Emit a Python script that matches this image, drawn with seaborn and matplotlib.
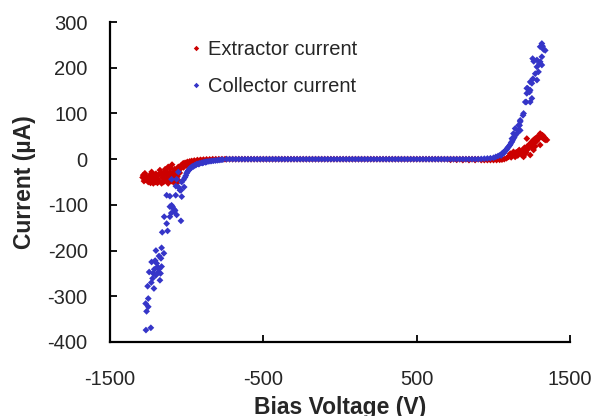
import pandas as pd
import seaborn as sns
import matplotlib.pyplot as plt

# values (V, uA)
collector_left_v = [-1265, -1233, -1267, -1261, -1250, -1250, -1254, -1213, -1230, -1222,
                    -1174, -1244, -1200, -1185, -1218, -1211, -1163, -1178, -1190, -1195,
                    -1228, -1205, -1167, -1180, -1148, -1170, -1200, -1163, -1159, -1124,
                    -1130, -1037, -1146, -1109, -1100, -1065, -1080, -1075, -1087, -1092,
                    -1098, -1109, -1032, -1071, -1109, -1130, -1037, -1043, -1054, -1016,
                    -1070, -1098, -1065, -1032, -1054, -1011, -1000, -990, -978, -968,
                    -958, -946, -935, -925, -914, -902, -890, -880, -870, -860,
                    -848, -837, -825, -812, -800, -788, -776, -764,
                    -1020, -1005, -995, -985, -970, -955, -940, -920, -895, -875]
collector_left_i = [-374, -369, -316, -333, -323, -305, -278, -283, -270, -261,
                    -265, -247, -254, -247, -250, -241, -235, -240, -236, -228,
                    -225, -222, -217, -212, -206, -250, -200, -194, -160, -157,
                    -141, -135, -126, -126, -118, -122, -115, -112, -108, -104,
                    -101, -104, -82, -79, -81, -79, -68, -68, -61, -61,
                    -59, -44, -44, -50, -28, -40, -31, -25, -20, -17,
                    -15, -13, -11, -10, -9, -8, -7, -6, -5.5, -5,
                    -4.5, -4, -3.5, -3, -2.5, -2, -1.5, -1,
                    -45, -36, -28, -24, -19, -16, -13, -11, -8.5, -7]

collector_right_v = [920, 940, 960, 980, 1000, 1015, 1030, 1043, 1055, 1065,
                     1076, 1087, 1098, 1109, 1120, 1130, 1141, 1152, 1163, 1170,
                     1174, 1120, 1130, 1141, 1163, 1174, 1174, 1192, 1196, 1207,
                     1213, 1217, 1222, 1235, 1239, 1239, 1217, 1250, 1250, 1239,
                     1257, 1283, 1272, 1293, 1283, 1300, 1304, 1315, 1315, 1283,
                     1255, 1262, 1304, 1315, 1320, 1326, 1337,
                     1050, 1070, 1082, 1093, 1105, 1115, 1125, 1135]
collector_right_i = [0.5, 1, 1.5, 2, 3, 5, 7, 9, 12, 15,
                     18, 22, 27, 32, 38, 45, 52, 56, 63, 74,
                     82, 45, 56, 67, 74, 63, 85, 96, 100, 125,
                     125, 144, 155, 147, 125, 151, 155, 133, 166, 169,
                     176, 173, 187, 191, 202, 209, 213, 206, 224, 217,
                     220, 214, 246, 253, 247, 240, 238,
                     8, 14, 20, 25, 30, 36, 42, 48]

extractor_left_v = [-1287, -1283, -1272, -1270, -1261, -1255, -1250, -1240, -1239, -1230,
                    -1228, -1217, -1207, -1200, -1196, -1190, -1185, -1174, -1163, -1160,
                    -1152, -1150, -1141, -1140, -1135, -1130, -1125, -1120, -1120, -1109,
                    -1105, -1100, -1095, -1090, -1087, -1080, -1076, -1070, -1065, -1065,
                    -1060, -1054, -1045, -1043, -1040, -1033, -1022, -1020, -1010, -1000,
                    -995, -980, -980, -967, -960, -950, -940, -930, -920, -910,
                    -900, -890, -870, -850, -830, -810, -790, -770, -750,
                    -1278, -1266, -1245, -1235, -1222, -1212, -1203, -1192, -1180, -1168,
                    -1157, -1145, -1115, -1112, -1097, -1083, -1078, -1058, -1050, -1030]
extractor_left_i = [-40, -35, -31, -45, -39, -42, -50, -48, -35, -38,
                    -28, -53, -39, -32, -46, -52, -35, -24, -53, -35,
                    -42, -50, -31, -22, -38, -46, -30, -17, -53, -28,
                    -20, -40, -12, -30, -50, -45, -35, -50, -53, -25,
                    -38, -17, -30, -22, -15, -13, -9, -18, -8, -14,
                    -6, -5, -11, -4, -8, -3, -6, -2, -4, -1.5,
                    -3, -1, -0.5, -0.5, 0, 0, 0, 0, 0,
                    -48, -45, -38, -52, -44, -35, -50, -42, -47, -30,
                    -40, -28, -45, -35, -48, -38, -22, -45, -20, -16]

extractor_right_v = [720, 760, 800, 840, 880,
                     920, 940, 960, 980, 1000, 1020, 1040, 1055, 1070, 1085,
                     1098, 1109, 1120, 1130, 1141, 1152, 1163, 1174, 1185, 1196,
                     1196, 1207, 1207, 1217, 1217, 1228, 1239, 1239, 1250, 1261,
                     1261, 1272, 1272, 1283, 1283, 1293, 1304, 1304, 1315, 1326,
                     1326, 1337, 1348,
                     1105, 1115, 1135, 1148, 1158, 1168, 1180, 1190, 1202, 1212,
                     1225, 1245, 1255, 1268, 1278, 1290, 1298, 1310, 1320, 1332]
extractor_right_i = [-1.5, -1.5, -2, -2, -2,
                     -2, -2, -2, -2, -2, -2, -1.5, -1, 0, 2,
                     5, 12, 8, 16, 5, 12, 18, 16, 9, 22,
                     5, 20, 12, 27, 45, 30, 34, 9, 38, 42,
                     20, 45, 28, 48, 40, 49, 56, 31, 53, 45,
                     50, 42, 42,
                     8, 4, 10, 15, 8, 20, 14, 18, 25, 15,
                     22, 28, 32, 36, 40, 44, 50, 48, 52, 47]

# both currents sit on zero across the middle of the sweep
flat_v = [-740, -720, -700, -680, -660, -640, -620, -600, -580, -560,
          -540, -520, -500, -480, -460, -440, -420, -400, -380, -360,
          -340, -320, -300, -280, -260, -240, -220, -200, -180, -160,
          -140, -120, -100, -80, -60, -40, -20, 0, 20, 40,
          60, 80, 100, 120, 140, 160, 180, 200, 220, 240,
          260, 280, 300, 320, 340, 360, 380, 400, 420, 440,
          460, 480, 500, 520, 540, 560, 580, 600, 620, 640,
          660, 680, 700, 720, 740, 760, 780, 800, 820, 840,
          860, 880, 900]
flat_i = [0, 0, 0, 0, 0, 0, 0, 0, 0, 0,
          0, 0, 0, 0, 0, 0, 0, 0, 0, 0,
          0, 0, 0, 0, 0, 0, 0, 0, 0, 0,
          0, 0, 0, 0, 0, 0, 0, 0, 0, 0,
          0, 0, 0, 0, 0, 0, 0, 0, 0, 0,
          0, 0, 0, 0, 0, 0, 0, 0, 0, 0,
          0, 0, 0, 0, 0, 0, 0, 0, 0, 0,
          0, 0, 0, 0, 0, 0, 0, 0, 0, 0,
          0, 0, 0]

x_ticks = [-1500, -500, 500, 1500]
y_ticks = [-400, -300, -200, -100, 0, 100, 200, 300]

extractor_v = extractor_left_v + flat_v + extractor_right_v
extractor_i = extractor_left_i + flat_i + extractor_right_i
collector_v = collector_left_v + flat_v + collector_right_v
collector_i = collector_left_i + flat_i + collector_right_i

# extractor first so the collector points are drawn on top
df = pd.DataFrame({
    "voltage": extractor_v + collector_v,
    "current": extractor_i + collector_i,
    "series": ["Extractor current"] * len(extractor_v) + ["Collector current"] * len(collector_v),
})

colors = {"Extractor current": "#CC0000", "Collector current": "#3535C8"}

sns.set_style("ticks")
plt.rcParams["font.family"] = ["Liberation Sans", "DejaVu Sans"]
plt.rcParams["axes.unicode_minus"] = False

fig, ax = plt.subplots(figsize=(5.94, 4.16), dpi=100)
fig.subplots_adjust(left=0.185, right=0.96, bottom=0.178, top=0.947)

sns.scatterplot(data=df, x="voltage", y="current", hue="series", palette=colors,
                marker="D", s=12, linewidth=0, ax=ax)

ax.set(xlim=(-1500, 1500), ylim=(-400, 300))
ax.set_xticks(x_ticks)
ax.set_yticks(y_ticks)
ax.set_xlabel("Bias Voltage (V)", fontsize=16.5, fontweight="bold", labelpad=5)
ax.set_ylabel("Current (µA)", fontsize=16.5, fontweight="bold", labelpad=8)
ax.tick_params(axis="both", direction="in", length=5, width=1.3, labelsize=14.5, color="black")
ax.tick_params(axis="x", pad=20)
ax.tick_params(axis="y", pad=16)
sns.despine(ax=ax)
for side in ["left", "bottom"]:
    ax.spines[side].set_linewidth(1.6)
    ax.spines[side].set_color("black")

handles, labels = ax.get_legend_handles_labels()
ax.legend(handles, labels, loc="upper left", bbox_to_anchor=(0.176, 0.945), frameon=False,
          fontsize=14.5, handlelength=0.5, handletextpad=0.35, labelspacing=0.9,
          borderpad=0, borderaxespad=0, markerscale=0.8)

fig.savefig("out.png", dpi=100)
